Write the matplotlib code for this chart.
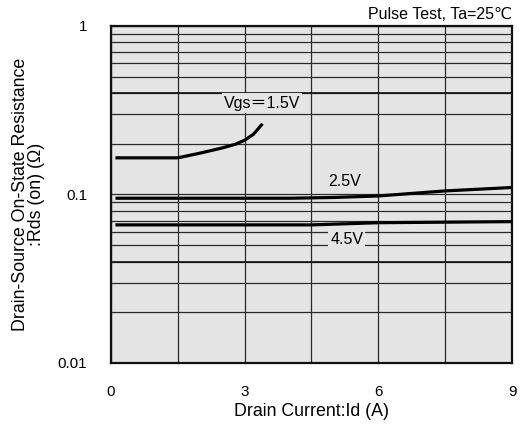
import numpy as np
import matplotlib
matplotlib.use("Agg")
import matplotlib.pyplot as plt
from matplotlib.ticker import FixedLocator, NullFormatter

plt.rcParams['font.family'] = ['Liberation Sans', 'DejaVu Sans', 'Noto Sans CJK JP']

# Data (Id in A, Rds(on) in ohm)
id_15 = [0.1, 1.5, 2.0, 2.5, 2.8, 3.0, 3.2, 3.4]
rds_15 = [0.165, 0.165, 0.176, 0.189, 0.199, 0.21, 0.228, 0.263]

id_25 = [0.1, 4.0, 5.0, 6.0, 7.5, 9.0]
rds_25 = [0.095, 0.095, 0.096, 0.098, 0.105, 0.110]

id_45 = [0.1, 4.5, 6.0, 9.0]
rds_45 = [0.066, 0.066, 0.068, 0.069]

x_ticks = [0, 3, 6, 9]
x_grid = [1.5, 4.5, 7.5]
y_ticks = [0.01, 0.1, 1]
y_tick_labels = ["0.01", "0.1", "1"]
thick_grid = [0.04, 0.4]

bg = "#e5e5e5"
grid_col = "#2a2a2a"

fig = plt.figure(figsize=(5.26, 4.33), dpi=100)
ax = fig.add_axes([0.211, 0.1617, 0.7624, 0.7783])
ax.set_facecolor(bg)
ax.set_yscale("log")
ax.set_xlim(0, 9)
ax.set_ylim(0.01, 1)

ax.set_xticks(x_ticks)
ax.set_xticks(x_grid, minor=True)
ax.set_yticks(y_ticks)
ax.set_yticklabels(y_tick_labels)
minor_y = [m * d for d in (0.01, 0.1) for m in range(2, 10)]
ax.yaxis.set_minor_locator(FixedLocator(minor_y))
ax.yaxis.set_minor_formatter(NullFormatter())

ax.grid(True, which="both", color=grid_col, linewidth=0.9)
for v in thick_grid:
    ax.axhline(v, color="#111111", linewidth=1.2, zorder=1)
ax.set_axisbelow(True)

ax.tick_params(which="both", length=0, labelsize=11)
ax.tick_params(axis="x", pad=16)
ax.tick_params(axis="y", pad=17)

for s in ax.spines.values():
    s.set_linewidth(1.6)
    s.set_color("#111111")

ax.plot(id_15, rds_15, color="black", linewidth=2.3, solid_capstyle="butt", zorder=3)
ax.plot(id_25, rds_25, color="black", linewidth=2.3, solid_capstyle="butt", zorder=3)
ax.plot(id_45, rds_45, color="black", linewidth=2.3, solid_capstyle="butt", zorder=3)

box = dict(facecolor=bg, edgecolor="none", pad=1.5)
ax.text(3.39, 0.349, "Vgs\uff1d1.5V", ha="center", va="center", fontsize=11.5, bbox=box, zorder=4)
ax.text(5.25, 0.119, "2.5V", ha="center", va="center", fontsize=11.5, zorder=4)
ax.text(5.29, 0.0542, "4.5V", ha="center", va="center", fontsize=11.5, bbox=box, zorder=4)

ax.text(1.0, 1.012, "Pulse Test, Ta=25\u2103", transform=ax.transAxes,
        ha="right", va="bottom", fontsize=11.5)

ax.set_xlabel("Drain Current:Id (A)", fontsize=12.8, labelpad=3)
ax.set_ylabel("Drain-Source On-State Resistance\n:Rds (on) (\u03a9)", fontsize=12.8,
              labelpad=9, linespacing=0.95)

fig.savefig("out.png", dpi=100)
